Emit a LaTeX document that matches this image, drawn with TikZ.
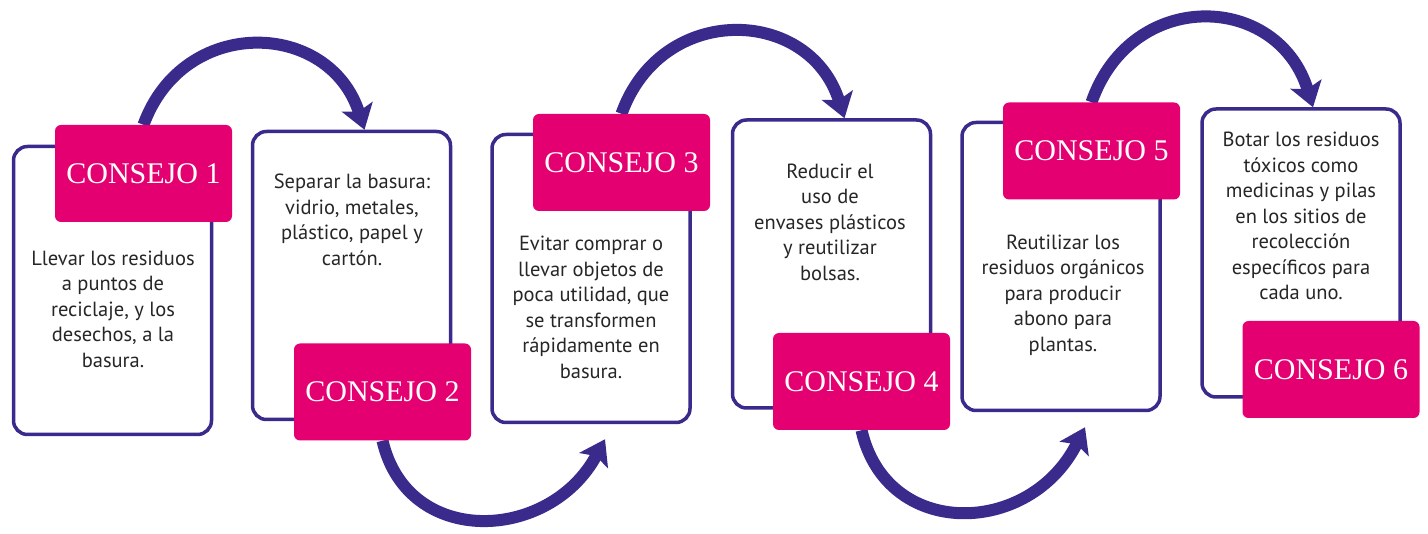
\documentclass[tikz,border=0pt]{standalone}
\usepackage{fontspec}
\setmainfont{Liberation Serif}
\setsansfont{PT Sans}
\definecolor{consejopink}{RGB}{228,0,112}
\definecolor{consejopurple}{RGB}{58,42,140}
\usetikzlibrary{arrows.meta, backgrounds}

\begin{document}
\begin{tikzpicture}[x=1pt, y=-1pt,
    tipbox/.style={draw=consejopurple, line width=3.5pt, rounded corners=14pt, fill=white, minimum width=198pt, minimum height=288pt, inner sep=0pt},
    tiptext/.style={align=center, font=\sffamily\fontsize{20.5}{25.5}\selectfont, text=black!85},
    tag/.style={fill=consejopink, rounded corners=6pt, minimum width=177pt, minimum height=97pt, inner sep=0pt, text=white, font=\fontsize{30}{30}\selectfont},
    flow/.style={draw=consejopurple, line width=12pt, -{Stealth[length=24pt, width=32pt, inset=5pt]}}]
        \useasboundingbox (0,0) rectangle (1428,534);
        % Boxes
        \node[tipbox] (box1) at (112.5,290.5) {};
        \node[tipbox] (box2) at (351.5,275.5) {};
        \node[tipbox] (box3) at (591,278.5) {};
        \node[tipbox] (box4) at (831.5,264) {};
        \node[tipbox] (box5) at (1061,266.5) {};
        \node[tipbox] (box6) at (1301,253) {};
        % Texts
        \node[tiptext] (text1) at (113,309) {Llevar los residuos\\a puntos de\\reciclaje, y los\\desechos, a la\\basura.};
        \node[tiptext] (text2) at (352,220) {Separar la basura:\\vidrio, metales,\\plástico, papel y\\cartón.};
        \node[tiptext] (text3) at (591,307.5) {Evitar comprar o\\llevar objetos de\\poca utilidad, que\\se transformen\\rápidamente en\\basura.};
        \node[tiptext] (text4) at (830,222) {Reducir el\\uso de\\envases plásticos\\y reutilizar\\bolsas.};
        \node[tiptext] (text5) at (1063,295) {Reutilizar los\\residuos orgánicos\\para producir\\abono para\\plantas.};
        \node[tiptext] (text6) at (1301,216) {Botar los residuos\\tóxicos como\\medicinas y pilas\\en los sitios de\\recolección\\específicos para\\cada uno.};
        % Tags
        \node[tag] (tag1) at (143.5,173.5) {CONSEJO 1};
        \node[tag] (tag2) at (382.5,392) {CONSEJO 2};
        \node[tag] (tag3) at (621.5,162.5) {CONSEJO 3};
        \node[tag] (tag4) at (861.5,381.5) {CONSEJO 4};
        \node[tag] (tag5) at (1091.5,151) {CONSEJO 5};
        \node[tag] (tag6) at (1331,369.5) {CONSEJO 6};
        % Arrows
        \begin{pgfonlayer}{background}
        \draw[flow] (tag1.north) .. controls +(40,-110) and +(-35,-110) .. ([xshift=13pt]box2.north);
        \draw[flow] (tag2.south) .. controls +(25,108) and +(-55,103) .. ([xshift=14pt, yshift=-15pt]box3.south);
        \draw[flow] (tag3.north) .. controls +(40,-112) and +(-35,-112) .. ([xshift=13pt]box4.north);
        \draw[flow] (tag4.south) .. controls +(25,110) and +(-55,110) .. ([xshift=24pt, yshift=-15pt]box5.south);
        \draw[flow] (tag5.north) .. controls +(40,-115) and +(-35,-115) .. ([xshift=12pt]box6.north);
        \end{pgfonlayer}
      \end{tikzpicture}
\end{document}
